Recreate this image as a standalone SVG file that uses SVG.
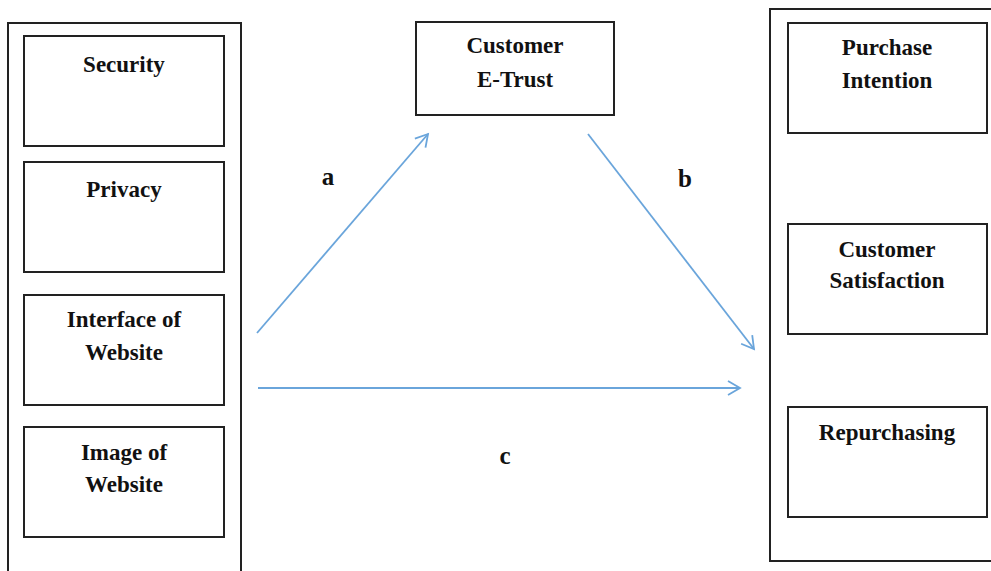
<svg xmlns="http://www.w3.org/2000/svg" width="991" height="571" viewBox="0 0 991 571">
<style>
.box{fill:#fff;stroke:#222;stroke-width:2}
.t{font-family:"Liberation Serif",serif;font-weight:bold;font-size:23px;fill:#111;text-anchor:middle}
.lbl{font-size:25px}
.conn{stroke:#6AA5DB;stroke-width:1.8;fill:none;marker-end:url(#arr)}
</style>
<defs>
<marker id="arr" markerUnits="userSpaceOnUse" markerWidth="20" markerHeight="20" refX="14" refY="8" orient="auto">
<path d="M2,1 L14,8 L2,15" fill="none" stroke="#6AA5DB" stroke-width="1.8"/>
</marker>
</defs>
<rect width="991" height="571" fill="#fff"/>
<g id="left-group"><rect class="box" x="8" y="23" width="233" height="560"/></g>
<g id="security"><rect class="box" x="24" y="36" width="200" height="110"/><text class="t" x="124" y="72">Security</text></g>
<g id="privacy"><rect class="box" x="24" y="162" width="200" height="110"/><text class="t" x="124" y="197">Privacy</text></g>
<g id="interface"><rect class="box" x="24" y="295" width="200" height="110"/><text class="t" x="124" y="327">Interface of</text><text class="t" x="124" y="360">Website</text></g>
<g id="image"><rect class="box" x="24" y="427" width="200" height="110"/><text class="t" x="124" y="460">Image of</text><text class="t" x="124" y="492">Website</text></g>
<g id="etrust"><rect class="box" x="416" y="22" width="198" height="93"/><text class="t" x="515" y="53">Customer</text><text class="t" x="515" y="87">E-Trust</text></g>
<g id="right-group"><rect class="box" x="770" y="9" width="240" height="552"/></g>
<g id="purchase"><rect class="box" x="788" y="23" width="199" height="110"/><text class="t" x="887" y="55">Purchase</text><text class="t" x="887" y="88">Intention</text></g>
<g id="satisfaction"><rect class="box" x="788" y="224" width="199" height="110"/><text class="t" x="887" y="257">Customer</text><text class="t" x="887" y="288">Satisfaction</text></g>
<g id="repurchasing"><rect class="box" x="788" y="407" width="199" height="110"/><text class="t" x="887" y="440">Repurchasing</text></g>
<g id="connectors">
<line class="conn" x1="257" y1="333" x2="428" y2="134"/>
<line class="conn" x1="588" y1="134" x2="754" y2="349"/>
<line class="conn" x1="258" y1="388" x2="740" y2="388"/>
</g>
<g id="labels">
<text class="t lbl" x="328" y="185">a</text>
<text class="t lbl" x="685" y="187">b</text>
<text class="t lbl" x="505" y="464">c</text>
</g>
</svg>
